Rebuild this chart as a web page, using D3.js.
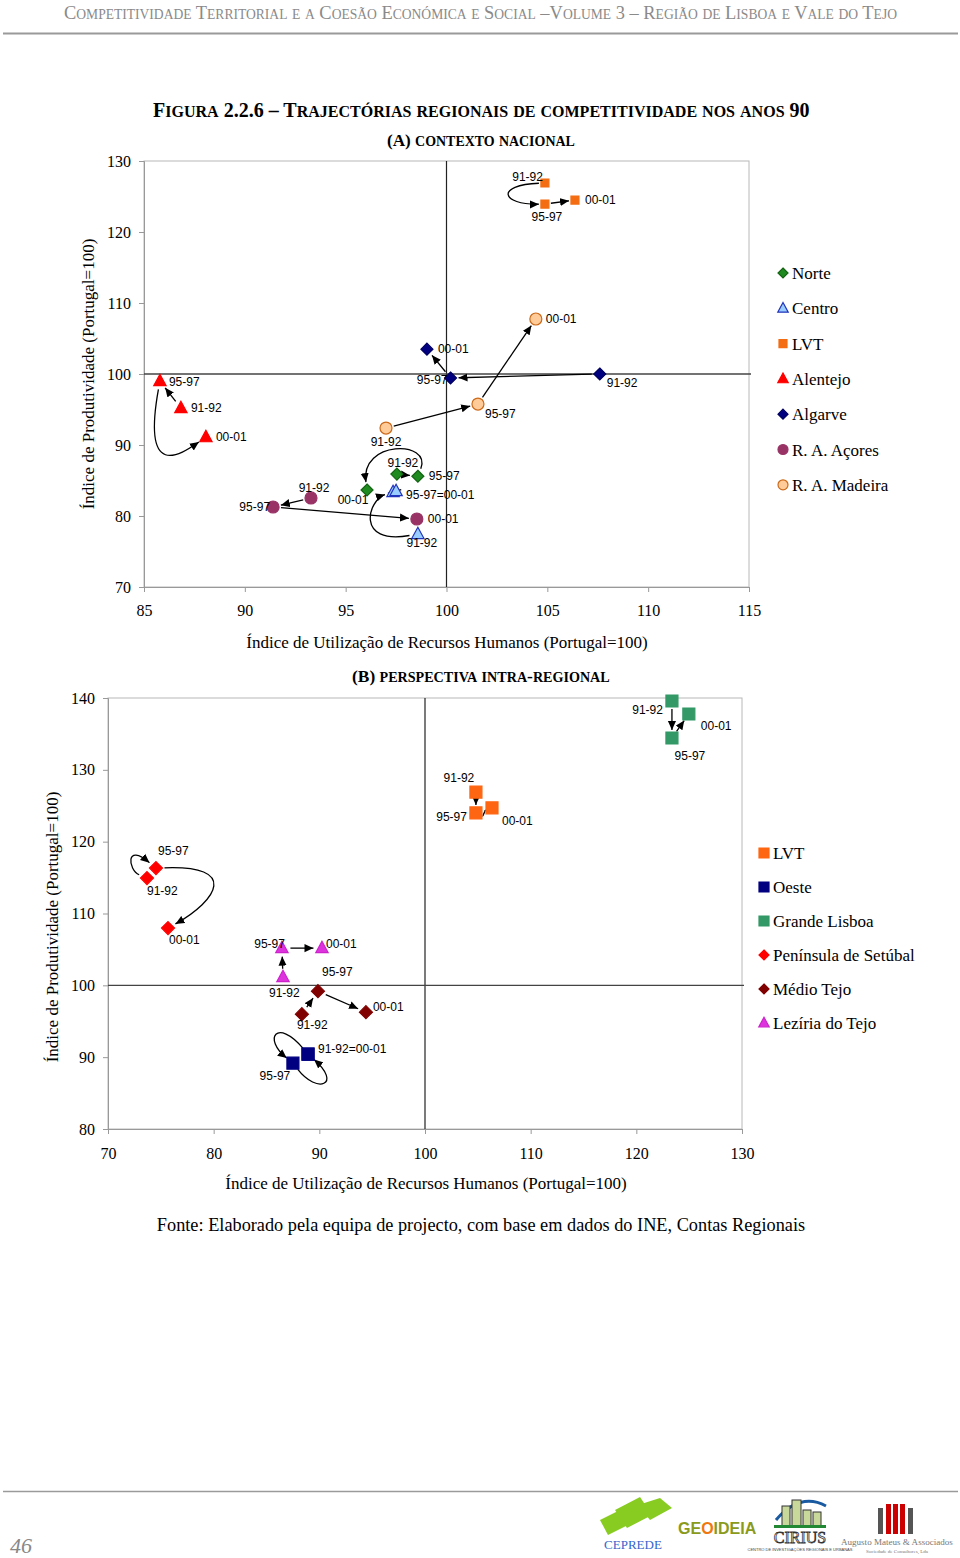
<!DOCTYPE html>
<html><head><meta charset="utf-8">
<script src="https://cdn.jsdelivr.net/npm/d3@7"></script>
<style>body{margin:0;background:#fff}svg{display:block}</style>
</head><body>
<svg id="c" width="960" height="1558"></svg>
<script>
// ---------- DATA ----------
const periods = ["91-92","95-97","00-01"];
// (A) national context
const regionsA = ["Norte","Centro","LVT","Alentejo","Algarve","R. A. Açores","R. A. Madeira"];
const rhA = [ // Índice de Utilização de Recursos Humanos
  [97.54, 98.58, 96.06],
  [98.58, 97.35, 97.50],
  [104.88,104.88,106.37],
  [86.83, 85.79, 88.07],
  [107.60,100.20, 99.03],
  [93.28, 91.40, 98.53],
  [97.00, 101.56,104.43]
];
const prodA = [ // Índice de Produtividade
  [85.90, 85.60, 83.66],
  [77.46, 83.38, 83.50],
  [126.90,123.94,124.50],
  [95.20, 99.00, 91.10],
  [100.00,99.44,103.50],
  [82.54, 81.27, 79.58],
  [92.39, 95.77,107.75]
];
const labelsA = [
  ["91-92","95-97","00-01"],
  ["91-92","95-97=00-01",""],
  ["91-92","95-97","00-01"],
  ["91-92","95-97","00-01"],
  ["91-92","95-97","00-01"],
  ["91-92","95-97","00-01"],
  ["91-92","95-97","00-01"]
];
// (B) intra-regional perspective
const regionsB = ["LVT","Oeste","Grande Lisboa","Península de Setúbal","Médio Tejo","Lezíria do Tejo"];
const rhB = [
  [104.82,104.82,106.34],
  [88.93, 87.50, 88.93],
  [123.37,123.37,124.97],
  [73.69, 74.54, 75.68],
  [88.35, 89.87, 94.41],
  [86.56, 86.46, 90.25]
];
const prodB = [
  [126.90,124.00,124.70],
  [90.42, 89.17, 90.42],
  [139.58,134.43,137.77],
  [114.93,116.32,107.97],
  [95.99, 99.19, 96.27],
  [101.14,105.18,105.18]
];
const labelsB = [
  ["91-92","95-97","00-01"],
  ["91-92=00-01","95-97",""],
  ["91-92","95-97","00-01"],
  ["91-92","95-97","00-01"],
  ["91-92","95-97","00-01"],
  ["91-92","95-97","00-01"]
];
const xTicksA = [85,90,95,100,105,110,115];
const yTicksA = [70,80,90,100,110,120,130];
const xTicksB = [70,80,90,100,110,120,130];
const yTicksB = [80,90,100,110,120,130,140];

// curve control points (data units) for bent trajectories: [region, from, c1x,c1y,c2x,c2y]
const curvesA = [
  [0,1, 99.28,90.70, 95.71,90.70],
  [1,0, 95.46,75.92, 96.11,82.25],
  [2,0, 102.40,126.62, 102.70,123.80],
  [3,1, 84.90,85.00, 86.79,88.59]
];
const curvesB = [
  [1,0, 86.00,95.50, 84.60,92.60],
  [1,1, 89.80,84.80, 92.20,86.20],
  [3,0, 71.89,116.05, 71.61,119.95],
  [3,1, 82.40,116.75, 80.40,111.88],
  [0,1, 105.40,123.60, 105.80,124.40]
];

// ---------- STYLE / LAYOUT ----------
const SERIF = "'Liberation Serif','Times New Roman',serif";
const SANS = "'Liberation Sans',Arial,sans-serif";
const styleA = [
  {shape:"diamond", fill:"#1f8a1f", stroke:"#146414", s:6},
  {shape:"triangle", fill:"#99ccff", stroke:"#2233bb", s:6.5},
  {shape:"square", fill:"#f46d12", stroke:"#f46d12", s:4},
  {shape:"triangle", fill:"#ff0000", stroke:"#ff0000", s:6.5},
  {shape:"diamond", fill:"#000080", stroke:"#000060", s:6},
  {shape:"circle", fill:"#993366", stroke:"#993366", s:6},
  {shape:"circle", fill:"#ffcc99", stroke:"#cc6a1a", s:6}
];
const styleB = [
  {shape:"square", fill:"#ff6611", stroke:"#ff6611", s:6},
  {shape:"square", fill:"#000080", stroke:"#000080", s:6},
  {shape:"square", fill:"#339966", stroke:"#339966", s:6},
  {shape:"diamond", fill:"#ff0000", stroke:"#ff0000", s:6.5},
  {shape:"diamond", fill:"#800000", stroke:"#800000", s:6.5},
  {shape:"triangle", fill:"#dd33dd", stroke:"#cc22cc", s:6.5}
];
// label offsets [dx, dy, anchor]
const offA = [
  [[6,-7,"middle"],[11,4,"start"],[-14,14,"middle"]],
  [[4,13,"middle"],[13,7,"start"],[0,0,"start"]],
  [[-2,-2,"end"],[2,17,"middle"],[10,4,"start"]],
  [[10,4,"start"],[9,5,"start"],[10,4,"start"]],
  [[7,13,"start"],[-3,6,"end"],[11,4,"start"]],
  [[3,-6,"middle"],[-3,4,"end"],[11,4,"start"]],
  [[0,18,"middle"],[7,14,"start"],[10,4,"start"]]
];
const offB = [
  [[-17,-10,"middle"],[-9,8,"end"],[10,17,"start"]],
  [[10,-1,"start"],[-18,17,"middle"],[0,0,"start"]],
  [[-9,13,"end"],[18,22,"middle"],[12,16,"start"]],
  [[0,17,"start"],[2,-13,"start"],[1,16,"start"]],
  [[-5,15,"start"],[4,-15,"start"],[7,-1,"start"]],
  [[-14,20,"start"],[3,0,"end"],[4,0,"start"]]
];

const svg = d3.select("#c");
const defs = svg.append("defs");
defs.append("marker").attr("id","arr").attr("viewBox","0 -5 10 10")
  .attr("refX",10).attr("refY",0).attr("markerWidth",9).attr("markerHeight",9)
  .attr("markerUnits","userSpaceOnUse").attr("orient","auto")
  .append("path").attr("d","M0,-4.5L10,0L0,4.5Z").attr("fill","#000");

function shapePath(shape, s){
  if(shape==="diamond") return `M0,${-s}L${s},0L0,${s}L${-s},0Z`;
  if(shape==="square") return `M${-s},${-s}H${s}V${s}H${-s}Z`;
  if(shape==="triangle"){const h=s*1.75;return `M0,${-h*0.6}L${s*0.95},${h*0.4}L${-s*0.95},${h*0.4}Z`;}
  return d3.symbol(d3.symbolCircle, Math.PI*s*s)();
}
// manual small caps, then scale font sizes so the text spans targetW
function smallCaps(sel, str, big, small, targetW){
  const runs=[]; let cur=null;
  for(const ch of str){
    const low = ch!==ch.toUpperCase();
    const sz = low?small:big;
    if(!cur||cur.sz!==sz){cur={sz,t:""};runs.push(cur);}
    cur.t += low?ch.toUpperCase():ch;
  }
  const spans = runs.map(r=>sel.append("tspan").style("font-size",r.sz+"px").text(r.t));
  if(targetW){
    const w = sel.node().getComputedTextLength();
    const k = targetW/w;
    spans.forEach((sp,i)=>sp.style("font-size",(runs[i].sz*k)+"px"));
  }
  return sel;
}
function fitText(sel, size, targetW){
  sel.style("font-size",size+"px");
  const w = sel.node().getComputedTextLength();
  sel.style("font-size",(size*targetW/w)+"px");
  return sel;
}

// ---------- HEADER ----------
smallCaps(svg.append("text").attr("x",64).attr("y",19)
  .style("font-family",SERIF).attr("fill","#8a8a8a"),
  "Competitividade Territorial e a Coesão Económica e Social –Volume 3 – Região de Lisboa e Vale do Tejo",19,14,834);
svg.append("line").attr("x1",3).attr("x2",958).attr("y1",33.5).attr("y2",33.5).attr("stroke","#9a9a9a").attr("stroke-width",2);

smallCaps(svg.append("text").attr("x",153).attr("y",117)
  .style("font-family",SERIF).style("font-weight","bold"),
  "Figura 2.2.6 – Trajectórias regionais de competitividade nos anos 90",20,16,657);

// ---------- CHART BUILDER ----------
function chart(cfg){
  const {x,y,xt,yt,rh,pr,labels,styles,offs,curves,names} = cfg;
  const g = svg.append("g");
  const [x0,x1] = x.range(), [y0,y1] = y.range();
  g.append("rect").attr("x",x0).attr("y",y1).attr("width",x1-x0).attr("height",y0-y1)
    .attr("fill","none").attr("stroke","#b8b8b8");
  const ax = g.append("g").attr("transform",`translate(${x0},0)`)
    .call(d3.axisLeft(y).tickValues(yt).tickSize(5).tickPadding(8).tickFormat(d3.format("d")));
  const bx = g.append("g").attr("transform",`translate(0,${y0})`)
    .call(d3.axisBottom(x).tickValues(xt).tickSize(5).tickPadding(cfg.xpad).tickFormat(d3.format("d")));
  [ax,bx].forEach(a=>{a.selectAll("path,line").attr("stroke","#999");
    a.selectAll("text").style("font-family",SERIF).style("font-size","16px").attr("fill","#000");});
  g.append("line").attr("x1",x(100)).attr("x2",x(100)).attr("y1",y1).attr("y2",y0).attr("stroke","#222").attr("stroke-width",1.2);
  g.append("line").attr("x1",x0).attr("x2",x1+2).attr("y1",y(100)).attr("y2",y(100)).attr("stroke","#444").attr("stroke-width",1.4);
  const curveMap = {};
  curves.forEach(c=>curveMap[c[0]+"-"+c[1]]=c);
  const mv=(a,b,d)=>{const dx=b[0]-a[0],dy=b[1]-a[1],L=Math.hypot(dx,dy)||1;return [a[0]+dx/L*d,a[1]+dy/L*d];};
  rh.forEach((xs,r)=>{
    const st = styles[r];
    for(let i=0;i<2;i++){
      const p0=[x(xs[i]),y(pr[r][i])], p3=[x(xs[i+1]),y(pr[r][i+1])];
      const c = curveMap[r+"-"+i];
      const trim = st.s+2;
      const p = d3.path();
      if(c){
        const c1=[x(c[2]),y(c[3])], c2=[x(c[4]),y(c[5])];
        const s=mv(p0,c1,trim), e=mv(p3,c2,trim);
        p.moveTo(s[0],s[1]); p.bezierCurveTo(c1[0],c1[1],c2[0],c2[1],e[0],e[1]);
      } else {
        const s=mv(p0,p3,trim), e=mv(p3,p0,trim);
        p.moveTo(s[0],s[1]); p.lineTo(e[0],e[1]);
      }
      g.append("path").attr("d",p.toString()).attr("fill","none").attr("stroke","#000")
        .attr("stroke-width",1.3).attr("marker-end","url(#arr)");
    }
  });
  rh.forEach((xs,r)=>{
    const st = styles[r];
    xs.forEach((v,i)=>{
      g.append("path").attr("d",shapePath(st.shape,st.s))
        .attr("transform",`translate(${x(v)},${y(pr[r][i])})`)
        .attr("fill",st.fill).attr("stroke",st.stroke).attr("stroke-width",1.2);
    });
  });
  rh.forEach((xs,r)=>{
    xs.forEach((v,i)=>{
      const t = labels[r][i]; if(!t) return;
      const o = offs[r][i];
      g.append("text").attr("x",x(v)+o[0]).attr("y",y(pr[r][i])+o[1]).attr("text-anchor",o[2])
        .style("font-family",SANS).style("font-size","12px").text(t);
    });
  });
  names.forEach((n,i)=>{
    const ly = cfg.legY + i*cfg.legStep, st = styles[i];
    const ls = st.shape==="square" ? Math.min(st.s,5) : 5;
    g.append("path").attr("d",shapePath(st.shape, st.shape==="triangle"?5.5:ls))
      .attr("transform",`translate(${cfg.legX},${ly})`).attr("fill",st.fill).attr("stroke",st.stroke).attr("stroke-width",1.2);
    g.append("text").attr("x",cfg.legX+9).attr("y",ly+6).style("font-family",SERIF).style("font-size","17px").text(n);
  });
  g.append("text").attr("x",cfg.xtX).attr("y",cfg.xtY).attr("text-anchor","middle")
    .style("font-family",SERIF).style("font-size","17px").text("Índice de Utilização de Recursos Humanos (Portugal=100)");
  g.append("text").attr("transform",`translate(${cfg.ytX},${cfg.ytY}) rotate(-90)`).attr("text-anchor","middle")
    .style("font-family",SERIF).style("font-size","17px").text("Índice de Produtividade (Portugal=100)");
  smallCaps(g.append("text").attr("x",cfg.subX).attr("y",cfg.subY)
    .style("font-family",SERIF).style("font-weight","bold"), cfg.sub, 16, 13, cfg.subW);
}

chart({
  x: d3.scaleLinear([85,115],[144,749]), y: d3.scaleLinear([70,130],[587,161]),
  xt: xTicksA, yt: yTicksA, rh: rhA, pr: prodA, labels: labelsA, styles: styleA, offs: offA,
  curves: curvesA, names: regionsA, xpad: 13,
  legX: 783, legY: 273, legStep: 35.3,
  xtX: 447, xtY: 648, ytX: 94, ytY: 374, subX: 387, subW: 188, subY: 146, sub: "(A) contexto nacional"
});
chart({
  x: d3.scaleLinear([70,130],[108,742]), y: d3.scaleLinear([80,140],[1129,698]),
  xt: xTicksB, yt: yTicksB, rh: rhB, pr: prodB, labels: labelsB, styles: styleB, offs: offB,
  curves: curvesB, names: regionsB, xpad: 14,
  legX: 764, legY: 853, legStep: 34,
  xtX: 426, xtY: 1189, ytX: 58, ytY: 927, subX: 352, subW: 258, subY: 682, sub: "(B) perspectiva intra-regional"
});

svg.append("text").attr("x",481).attr("y",1231).attr("text-anchor","middle")
  .style("font-family",SERIF).style("font-size","18.3px")
  .text("Fonte: Elaborado pela equipa de projecto, com base em dados do INE, Contas Regionais");

// ---------- FOOTER ----------
svg.append("line").attr("x1",3).attr("x2",958).attr("y1",1491.5).attr("y2",1491.5).attr("stroke","#9a9a9a").attr("stroke-width",1.5);
svg.append("text").attr("x",10).attr("y",1553).style("font-family",SERIF).style("font-size","22px")
  .style("font-style","italic").attr("fill","#888").text("46");
const lg = svg.append("g");
[[600,1520,620,1510,628,1525,608,1535],[615,1510,640,1497,652,1515,627,1528],[638,1505,660,1498,672,1508,650,1520]]
  .forEach(p=>lg.append("polygon").attr("points",`${p[0]},${p[1]} ${p[2]},${p[3]} ${p[4]},${p[5]} ${p[6]},${p[7]}`).attr("fill","#88cc22"));
lg.append("text").attr("x",633).attr("y",1549).attr("text-anchor","middle").style("font-family",SERIF)
  .style("font-size","13px").attr("fill","#3366cc").text("CEPREDE");
const geo = lg.append("text").attr("x",678).attr("y",1534).style("font-family",SANS).style("font-size","16px").style("font-weight","bold");
geo.append("tspan").attr("fill","#8a9a1a").text("GE");
geo.append("tspan").attr("fill","#ee7711").text("O");
geo.append("tspan").attr("fill","#8a9a1a").text("IDEIA");
lg.append("path").attr("d","M776,1520 Q800,1492 826,1506").attr("fill","none").attr("stroke","#1a5aa0").attr("stroke-width",3);
[[782,1506,8,20],[792,1500,9,26],[803,1510,8,16],[813,1512,8,14]].forEach(b=>
  lg.append("rect").attr("x",b[0]).attr("y",b[1]).attr("width",b[2]).attr("height",b[3]).attr("fill","#c8d89a").attr("stroke","#333"));
lg.append("rect").attr("x",774).attr("y",1525).attr("width",52).attr("height",3).attr("fill","#228833");
lg.append("text").attr("x",800).attr("y",1543).attr("text-anchor","middle").style("font-family",SERIF)
  .style("font-size","16px").attr("fill","#fff").attr("stroke","#333").attr("stroke-width",0.8).text("CIRIUS");
lg.append("text").attr("x",800).attr("y",1551).attr("text-anchor","middle").style("font-family",SANS)
  .style("font-size","4px").attr("fill","#444").text("CENTRO DE INVESTIGAÇÕES REGIONAIS E URBANAS");
[[878,1508,5,26,"#555"],[886,1504,5,30,"#cc0000"],[893,1504,5,30,"#cc0000"],[900,1504,5,30,"#cc0000"],[908,1508,5,26,"#555"]]
  .forEach(b=>lg.append("rect").attr("x",b[0]).attr("y",b[1]).attr("width",b[2]).attr("height",b[3]).attr("fill",b[4]));
fitText(lg.append("text").attr("x",841).attr("y",1545).style("font-family",SERIF).attr("fill","#777")
  .text("Augusto Mateus & Associados"), 11, 112);
lg.append("text").attr("x",897).attr("y",1553).attr("text-anchor","middle").style("font-family",SERIF)
  .style("font-size","5px").attr("fill","#777").text("Sociedade de Consultores, Lda");
</script>
</body></html>
